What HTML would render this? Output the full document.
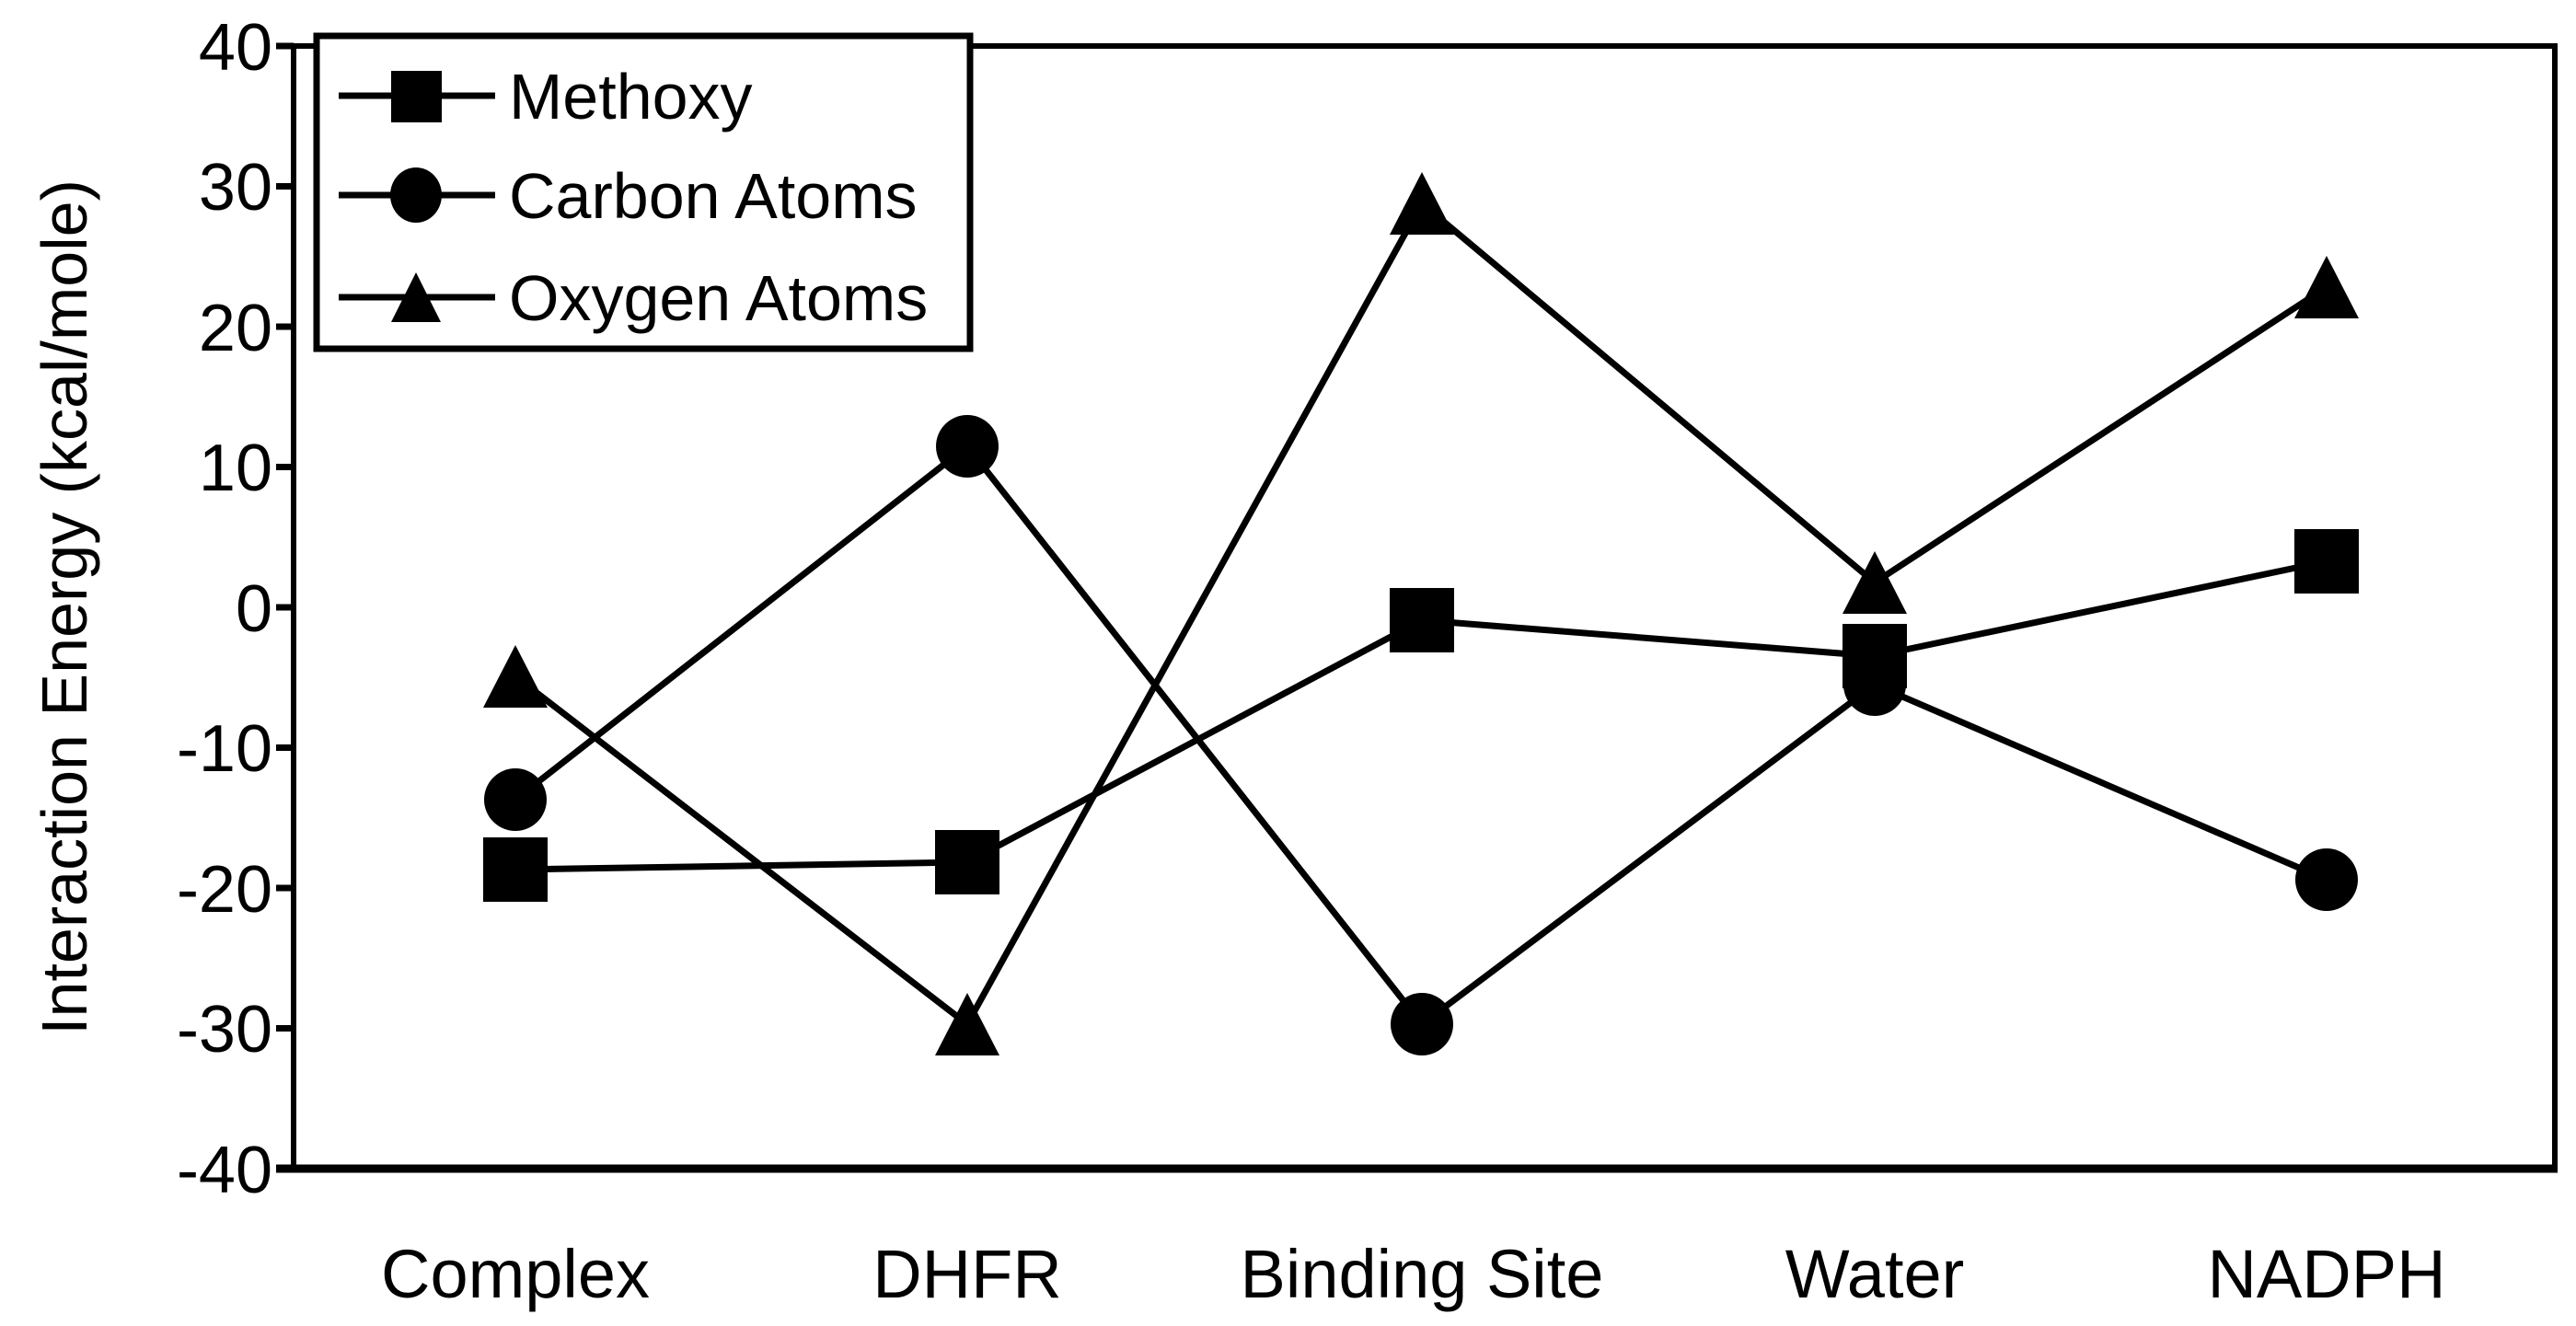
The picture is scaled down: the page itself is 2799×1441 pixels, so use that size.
<!DOCTYPE html>
<html><head><meta charset="utf-8"><style>html,body{margin:0;padding:0;background:#fff}svg{display:block}</style></head>
<body>
<svg width="2799" height="1441" viewBox="0 0 2799 1441" xmlns="http://www.w3.org/2000/svg" font-family="Liberation Sans, Arial, sans-serif">
<rect width="2799" height="1441" fill="#fff"/>
<rect x="319" y="50" width="2457" height="1220" fill="none" stroke="#000" stroke-width="6"/>
<line x1="300" y1="1270" x2="2779" y2="1270" stroke="#000" stroke-width="9"/>
<g stroke="#000" stroke-width="7">
<line x1="300" y1="50" x2="319" y2="50"/><line x1="300" y1="202.5" x2="319" y2="202.5"/>
<line x1="300" y1="355" x2="319" y2="355"/><line x1="300" y1="507.5" x2="319" y2="507.5"/>
<line x1="300" y1="660" x2="319" y2="660"/><line x1="300" y1="812.5" x2="319" y2="812.5"/>
<line x1="300" y1="965" x2="319" y2="965"/><line x1="300" y1="1117.5" x2="319" y2="1117.5"/>
</g>
<g font-size="72" text-anchor="end" fill="#000">
<text x="296" y="76">40</text><text x="296" y="228">30</text><text x="296" y="381">20</text>
<text x="296" y="533">10</text><text x="296" y="686">0</text><text x="296" y="838">-10</text>
<text x="296" y="991">-20</text><text x="296" y="1143">-30</text><text x="296" y="1296">-40</text>
</g>
<text transform="translate(94,660) rotate(-90)" font-size="70" text-anchor="middle">Interaction Energy (kcal/mole)</text>
<g font-size="74" text-anchor="middle">
<text x="560" y="1410">Complex</text><text x="1051" y="1410">DHFR</text>
<text x="1545" y="1410">Binding Site</text><text x="2037" y="1410">Water</text>
<text x="2528" y="1410">NADPH</text>
</g>
<g fill="none" stroke="#000" stroke-width="7">
<polyline points="560,945 1051,937 1545,674 2037,713 2528,610"/>
<polyline points="560,869 1051,485 1545,1113 2037,744 2528,956"/>
<polyline points="560,735 1051,1113 1545,221 2037,633 2528,312"/>
</g>
<g fill="#000">
<rect x="525" y="910" width="70" height="70"/><rect x="1016" y="902" width="70" height="70"/>
<rect x="1510" y="639" width="70" height="70"/><rect x="2002" y="678" width="70" height="70"/>
<rect x="2493" y="575" width="70" height="70"/>
<circle cx="560" cy="869" r="34"/><circle cx="1051" cy="485" r="34"/>
<circle cx="1545" cy="1113" r="34"/><circle cx="2037" cy="744" r="34"/>
<circle cx="2528" cy="956" r="34"/>
<polygon points="560,701 525,769 595,769"/><polygon points="1051,1079 1016,1147 1086,1147"/>
<polygon points="1545,187 1510,255 1580,255"/><polygon points="2037,599 2002,667 2072,667"/>
<polygon points="2528,278 2493,346 2563,346"/>
</g>
<rect x="344" y="39" width="710" height="340" fill="#fff" stroke="#000" stroke-width="7"/>
<g stroke="#000" stroke-width="7">
<line x1="368" y1="104" x2="538" y2="104"/><line x1="368" y1="212" x2="538" y2="212"/><line x1="368" y1="323" x2="538" y2="323"/>
</g>
<g fill="#000">
<rect x="425" y="77" width="55" height="56"/>
<ellipse cx="452" cy="212" rx="28" ry="30"/>
<polygon points="452,296 425,350 479,350"/>
</g>
<g font-size="70" fill="#000">
<text x="553" y="129">Methoxy</text><text x="553" y="237">Carbon Atoms</text><text x="553" y="348">Oxygen Atoms</text>
</g>
</svg>
</body></html>
